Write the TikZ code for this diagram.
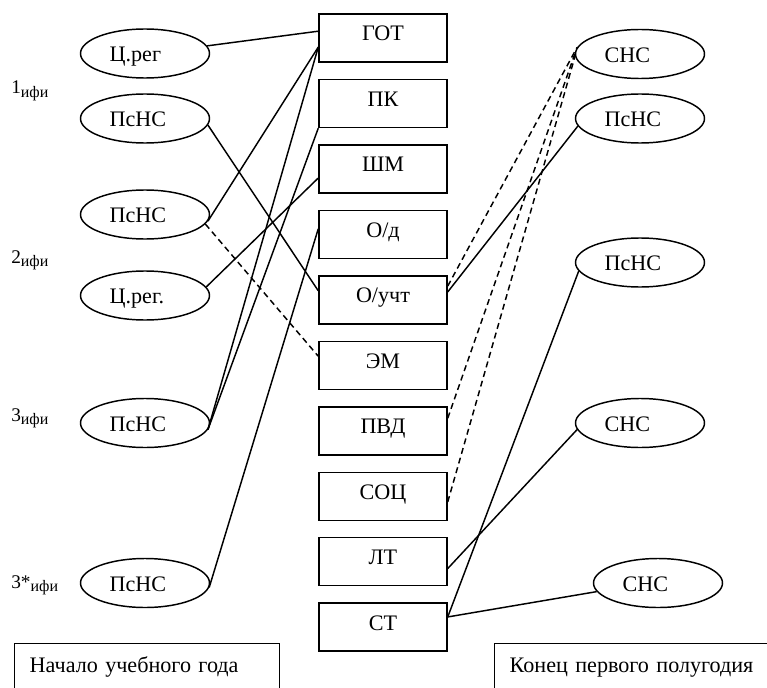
\documentclass[tikz,border=0pt]{standalone}
\usepackage{fontspec}
\setmainfont{Liberation Serif}
\usetikzlibrary{positioning,shapes.geometric}

\newcommand{\ifi}{\raisebox{-2.5pt}{\fontsize{12}{12}\selectfont ифи}}

\tikzset{
blk/.style={draw, line width=1.1pt, minimum width=96pt, minimum height=36pt, inner sep=0pt, text height=9pt, text depth=4.5pt},
ell/.style={draw, line width=1.1pt, ellipse, minimum width=96.75pt, minimum height=36.75pt, inner sep=0pt, text width=53pt, align=left, text height=12.6pt, text depth=0pt},
lnk/.style={line width=1.1pt},
dlnk/.style={line width=1.1pt, dash pattern=on 4.5pt off 3pt},
lvl/.style={anchor=base west, inner sep=0pt, font=\fontsize{14.5}{16}\selectfont},
note/.style={draw, line width=1.1pt, anchor=north west, inner xsep=11.25pt, inner ysep=10.75pt, align=left, text height=11pt, text depth=4pt}
}

\begin{document}
\begin{tikzpicture}[x=0.75pt, y=-0.75pt, font=\fontsize{16.6}{19}\selectfont]
\useasboundingbox (0,0) rectangle (767,688);
\clip (0,0) rectangle (767,688);

\node[blk] (got) at (383,38) {ГОТ}; \node[blk, below=12pt of got] (pk) {ПК}; \node[blk, below=12pt of pk] (shm) {ШМ}; \node[blk, below=12pt of shm] (od) {О/д}; \node[blk, below=12pt of od] (ouch) {О/учт};
\node[blk, below=12pt of ouch] (em) {ЭМ}; \node[blk, below=12pt of em] (pvd) {ПВД}; \node[blk, below=12pt of pvd] (soc) {СОЦ}; \node[blk, below=12pt of soc] (lt) {ЛТ}; \node[blk, below=12pt of lt] (st) {СТ};

\node[ell] (creg1) at (145,53.5) {Ц.рег}; \node[ell] (psns1) at (145,118.5) {ПсНС}; \node[ell] (psns2) at (145,214.5) {ПсНС};
\node[ell] (creg2) at (145,295.5) {Ц.рег.}; \node[ell] (psns3) at (145,423) {ПсНС}; \node[ell] (psns4) at (145,583) {ПсНС};

\node[ell] (sns1) at (640,54) {СНС}; \node[ell] (rpsns1) at (640,118.5) {ПсНС}; \node[ell] (rpsns2) at (640,262.5) {ПсНС};
\node[ell] (sns2) at (640,423) {СНС}; \node[ell] (sns3) at (658,583) {СНС};

\node[lvl] (lev1) at (11,94) {1\ifi}; \node[lvl] (lev2) at (11,263) {2\ifi}; \node[lvl] (lev3) at (11,421) {3\ifi}; \node[lvl] (lev3s) at (11,588) {3*\ifi};

\node[note, text width=176.25pt] (nstart) at (14,643) {Начало учебного года};
\node[note, text width=195pt] (nend) at (494,643) {Конец первого полугодия};

\draw[lnk] (creg1.7) -- (got.174); \draw[lnk] (psns1.-6) -- (ouch.172); \draw[lnk] (psns2.-6) -- (got.188); \draw[dlnk] (psns2.-9) -- (em.172);
\draw[lnk] (creg2.8) -- (shm.188); \draw[lnk] (psns3.-6) -- (got.188); \draw[lnk] (psns3.-6) -- (pk.south west); \draw[lnk] (psns4.-4) -- (od.175);

\draw[lnk] (ouch.7) -- (rpsns1.187); \draw[dlnk] (ouch.12) -- (sns1.174); \draw[dlnk] (pvd.11) -- (sns1.180); \draw[dlnk] (soc.-5) -- (sns1.182);
\draw[lnk] (lt.-6) -- (sns2.186); \draw[lnk] (st.9) -- (rpsns2.188); \draw[lnk] (st.9) -- (sns3.188);
\end{tikzpicture}
\end{document}
